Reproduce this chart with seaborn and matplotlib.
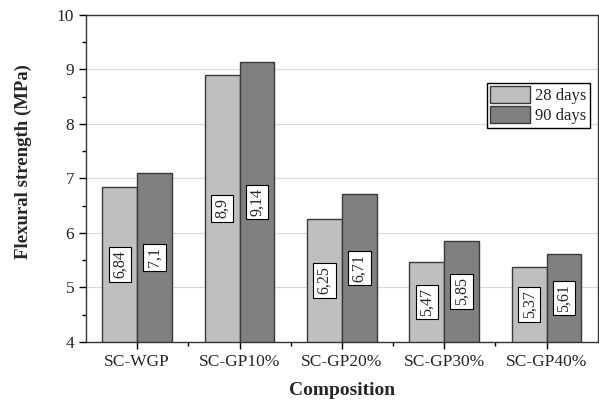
import pandas as pd
import matplotlib
matplotlib.use("Agg")
import matplotlib.pyplot as plt
from matplotlib.ticker import MultipleLocator, FixedLocator
import seaborn as sns

# ── Data ────────────────────────────────────────────────
compositions = ["SC-WGP", "SC-GP10%", "SC-GP20%", "SC-GP30%", "SC-GP40%"]
days_28 = [6.84, 8.90, 6.25, 5.47, 5.37]
days_90 = [7.10, 9.14, 6.71, 5.85, 5.61]
labels_28 = ["6,84", "8,9", "6,25", "5,47", "5,37"]
labels_90 = ["7,1", "9,14", "6,71", "5,85", "5,61"]
series = ["28 days", "90 days"]

df = pd.DataFrame({
    "Composition": compositions * 2,
    "Age": [series[0]] * 5 + [series[1]] * 5,
    "Strength": days_28 + days_90,
})

sns.set_theme(style="white")
plt.rcParams["font.family"] = ["Liberation Serif", "DejaVu Serif"]

fig = plt.figure(figsize=(5.99, 4.05), dpi=100)
ax = fig.add_axes([0.1436, 0.156, 0.8544, 0.807])

ax.yaxis.grid(True, color="#d9d9d9", linewidth=0.8)
ax.set_axisbelow(True)

sns.barplot(data=df, x="Composition", y="Strength", hue="Age",
            palette=["#bfbfbf", "#808080"], edgecolor="#3a3a3a", linewidth=1.0,
            width=0.68, gap=0, ax=ax, errorbar=None, saturation=1)

# value labels in white boxes, centred on the visible part of each bar
ymin = 4
for container, texts in zip(ax.containers, [labels_28, labels_90]):
    for bar, txt in zip(container, texts):
        xc = bar.get_x() + bar.get_width() / 2
        yc = (ymin + bar.get_height()) / 2
        ax.text(xc, yc, txt, rotation=90, ha="center", va="center", fontsize=11.5,
                bbox=dict(boxstyle="square,pad=0.2", fc="white", ec="black", lw=0.8))

ax.set_ylim(4, 10)
ax.set_xlim(-0.5, 4.5)
ax.yaxis.set_major_locator(MultipleLocator(1))
ax.yaxis.set_minor_locator(MultipleLocator(0.5))
ax.xaxis.set_minor_locator(FixedLocator([0.5, 1.5, 2.5, 3.5]))
ax.tick_params(axis="both", which="major", direction="out", length=5, width=1,
               color="black", labelsize=12.5, bottom=True, left=True)
ax.tick_params(axis="both", which="minor", direction="out", length=3, width=1,
               color="black", bottom=True, left=True)
for s in ax.spines.values():
    s.set_color("#333333")
    s.set_linewidth(1.0)

ax.set_xlabel("Composition", fontsize=14, fontweight="bold", labelpad=9)
ax.set_ylabel("Flexural strength (MPa)", fontsize=13.5, fontweight="bold")
ax.yaxis.set_label_coords(-0.105, 0.553)

leg = ax.legend(loc="upper right", bbox_to_anchor=(0.984, 0.792), fontsize=12,
                frameon=True, fancybox=False, framealpha=1, edgecolor="black",
                handlelength=2.4, handleheight=1.2, handletextpad=0.3,
                borderpad=0.2, labelspacing=0.1, borderaxespad=0)
leg.get_frame().set_linewidth(1.0)

plt.savefig("out.png", dpi=100)
plt.close()
